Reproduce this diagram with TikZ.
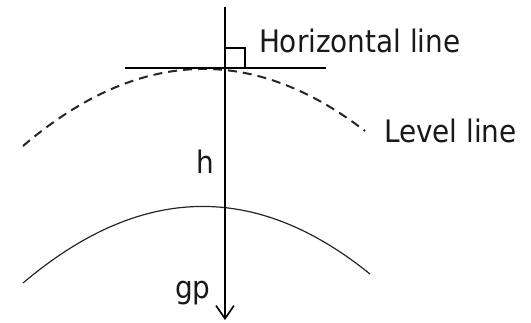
\documentclass[tikz,border=0pt]{standalone}
\usepackage{fontspec}
\setmainfont{DejaVu Sans Condensed}
\usetikzlibrary{arrows.meta}
\tikzset{
  lbl/.style={inner sep=0pt, outer sep=0pt, anchor=base west, font=\fontsize{31}{36}\selectfont, text=black!90},
  axis/.style={line width=2pt, draw=black},
  thinline/.style={line width=1.5pt, draw=black},
  levelcurve/.style={line width=2pt, draw=black!85, dash pattern=on 9pt off 6pt},
  groundcurve/.style={line width=1.2pt, draw=black!85},
}
\begin{document}
\begin{tikzpicture}[x=1pt,y=-1pt]
\useasboundingbox (0,0) rectangle (531,322);
% level (dashed) curve
\coordinate (lvA) at (23,146);
\coordinate (lvB) at (365,131);
\draw[levelcurve] (lvA) .. controls (138,48) and (252,44) .. (lvB);
% ground curve
\coordinate (gA) at (23,283);
\coordinate (gB) at (370,274);
\draw[groundcurve] (gA) .. controls (140,184) and (255,181) .. (gB);
% horizontal line
\coordinate (hl) at (125,68);
\coordinate (hr) at (326,68);
\draw[thinline] (hl) -- (hr);
% vertical arrow
\coordinate (top) at (225,7);
\coordinate (bot) at (225,320);
\draw[axis, -{Straight Barb[length=13pt, width=18pt, line width=1.6pt]}] (top) -- (bot);
% right-angle mark
\coordinate (ra1) at (225,48);
\coordinate (ra2) at (245,48);
\coordinate (ra3) at (245,68);
\draw[thinline] (ra1) -- (ra2) -- (ra3);
% labels
\node[lbl] (horiz) at (259,52) {Horizontal line};
\node[lbl] (level) at (384,142) {Level line};
\node[lbl] (h) at (196,173) {h};
\node[lbl] (gp) at (175,298) {gp};
\end{tikzpicture}
\end{document}
